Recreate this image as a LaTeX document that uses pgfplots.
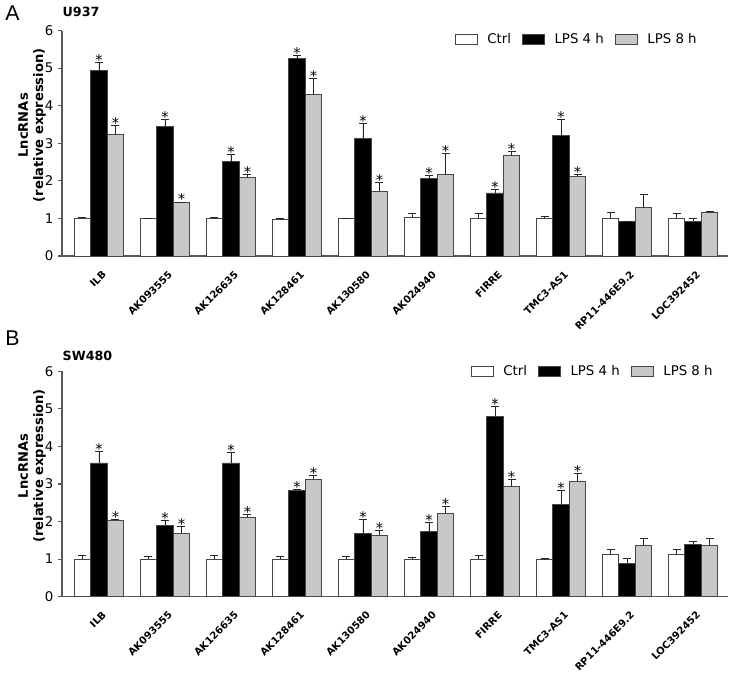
\documentclass[border=0pt]{standalone}
\usepackage{pgfplots}
\pgfplotsset{compat=1.18}
\usepackage{pgfplotstable}
\usepackage{fontspec}
\setmainfont{DejaVu Sans}
\newfontfamily\letterfont{Liberation Sans}

\definecolor{barfill}{RGB}{200,200,200}
\definecolor{edge}{RGB}{70,70,70}

% Panel A (U937)
\pgfplotstableread{
x y e s
0 1.00 0.03 0
1 1.00 0.00 0
2 1.01 0.01 0
3 0.98 0.01 0
4 1.00 0.00 0
5 1.04 0.10 0
6 1.00 0.13 0
7 1.00 0.06 0
8 1.00 0.16 0
9 1.00 0.13 0
}\ctrlA
\pgfplotstableread{
x y e s
0 4.93 0.22 1
1 3.45 0.19 1
2 2.51 0.20 1
3 5.25 0.08 1
4 3.14 0.40 1
5 2.06 0.09 1
6 1.68 0.10 1
7 3.20 0.44 1
8 0.92 0.00 0
9 0.92 0.08 0
}\fourA
\pgfplotstableread{
x y e s
0 3.25 0.24 1
1 1.42 0.02 1
2 2.08 0.09 1
3 4.29 0.45 1
4 1.72 0.24 1
5 2.17 0.55 1
6 2.69 0.10 1
7 2.13 0.04 1
8 1.29 0.35 0
9 1.15 0.05 0
}\eightA

% Panel B (SW480)
\pgfplotstableread{
x y e s
0 1.00 0.09 0
1 1.00 0.08 0
2 1.00 0.09 0
3 1.00 0.06 0
4 1.00 0.08 0
5 1.00 0.04 0
6 1.00 0.09 0
7 1.00 0.01 0
8 1.12 0.15 0
9 1.12 0.15 0
}\ctrlB
\pgfplotstableread{
x y e s
0 3.56 0.30 1
1 1.90 0.13 1
2 3.56 0.29 1
3 2.83 0.03 1
4 1.69 0.37 1
5 1.73 0.24 1
6 4.80 0.26 1
7 2.46 0.37 1
8 0.89 0.14 0
9 1.38 0.10 0
}\fourB
\pgfplotstableread{
x y e s
0 2.03 0.04 1
1 1.69 0.19 1
2 2.12 0.06 1
3 3.13 0.09 1
4 1.64 0.13 1
5 2.22 0.19 1
6 2.94 0.18 1
7 3.08 0.19 1
8 1.36 0.18 0
9 1.36 0.18 0
}\eightB

\pgfplotsset{
  panel/.style={
    width=499.5pt, height=169pt, scale only axis,
    ybar, bar width=0.25,
    xmin=-0.56, xmax=9.53, ymin=0, ymax=6,
    axis x line*=bottom, axis y line*=left,
    axis line style={-, draw=black!65, line width=0.8pt},
    ytick={0,1,2,3,4,5,6},
    xtick={0,1,2,3,4,5,6,7,8,9},
    xticklabels={ILB,AK093555,AK126635,AK128461,AK130580,AK024940,FIRRE,TMC3-AS1,RP11-446E9.2,LOC392452},
    x tick label style={rotate=45, anchor=north east, font=\bfseries\fontsize{7.5}{9}\selectfont, inner sep=1pt, xshift=-2.8pt, yshift=-5.5pt},
    xtick style={draw=none},
    y tick label style={font=\fontsize{10}{12}\selectfont},
    /pgf/number format/assume math mode=true,
    tick align=outside, major tick length=3pt,
    tick style={black!65, line width=0.8pt},
    ylabel={LncRNAs\\(relative expression)},
    ylabel style={align=center, font=\bfseries\fontsize{9.8}{11.5}\selectfont, at={(axis description cs:-0.045,0.58)}, anchor=center},
    title style={at={(axis description cs:0,1)}, anchor=base west, xshift=-3pt, font=\bfseries\fontsize{9.5}{11}\selectfont},
    legend columns=3,
    legend style={draw=none, fill=none, inner sep=0pt, font=\fontsize{10}{12}\selectfont,
      /tikz/every odd column/.append style={column sep=5pt},
      /tikz/every even column/.append style={column sep=6.5pt}},
    legend image code/.code={\draw[#1] (0pt,-3.75pt) rectangle (16.5pt,3.75pt);},
  },
  bars/.style={draw=edge, line width=0.6pt,
    error bars/y dir=plus, error bars/y explicit,
    error bars/error bar style={black!85, line width=0.6pt},
    error bars/error mark options={rotate=90, mark size=3pt, line width=0.6pt, black!85}},
  stars/.style={forget plot, draw=none, fill=none,
    restrict expr to domain={\thisrow{s}}{0.5:1.5},
    nodes near coords={*},
    nodes near coords style={anchor=base, yshift=-2.3pt, inner sep=0pt, font=\fontsize{11}{11}\selectfont}},
}

\begin{document}
\begin{tikzpicture}
\useasboundingbox (0,0) rectangle (550.5pt,-506.25pt);
\node[anchor=base west, inner sep=0pt, font=\letterfont\fontsize{16}{16}\selectfont] at (3.75pt,-15pt) {A};
\node[anchor=base west, inner sep=0pt, font=\letterfont\fontsize{16}{16}\selectfont] at (3.75pt,-258.75pt) {B};

\begin{axis}[panel, at={(46.5pt,-192pt)}, anchor=south west,
  title={U937}, title style={yshift=5pt},
  legend style={at={(0.59,0.96)}, anchor=west}]
\addplot[bars, fill=white, bar shift=-0.25] table[x=x, y=y, y error=e] {\ctrlA};
\addlegendentry{Ctrl}
\addplot[bars, fill=black, bar shift=0] table[x=x, y=y, y error=e] {\fourA};
\addlegendentry{LPS 4 h}
\addplot[bars, fill=barfill, bar shift=0.25] table[x=x, y=y, y error=e] {\eightA};
\addlegendentry{LPS 8 h}
\addplot[stars, bar shift=0] table[x=x, y expr=\thisrow{y}+\thisrow{e}] {\fourA};
\addplot[stars, bar shift=0.25] table[x=x, y expr=\thisrow{y}+\thisrow{e}] {\eightA};
\end{axis}

\begin{axis}[panel, at={(46.5pt,-447.5pt)}, anchor=south west,
  title={SW480}, title style={yshift=2pt},
  legend style={at={(0.614,1.0)}, anchor=west}]
\addplot[bars, fill=white, bar shift=-0.25] table[x=x, y=y, y error=e] {\ctrlB};
\addlegendentry{Ctrl}
\addplot[bars, fill=black, bar shift=0] table[x=x, y=y, y error=e] {\fourB};
\addlegendentry{LPS 4 h}
\addplot[bars, fill=barfill, bar shift=0.25] table[x=x, y=y, y error=e] {\eightB};
\addlegendentry{LPS 8 h}
\addplot[stars, bar shift=0] table[x=x, y expr=\thisrow{y}+\thisrow{e}] {\fourB};
\addplot[stars, bar shift=0.25] table[x=x, y expr=\thisrow{y}+\thisrow{e}] {\eightB};
\end{axis}
\end{tikzpicture}
\end{document}
